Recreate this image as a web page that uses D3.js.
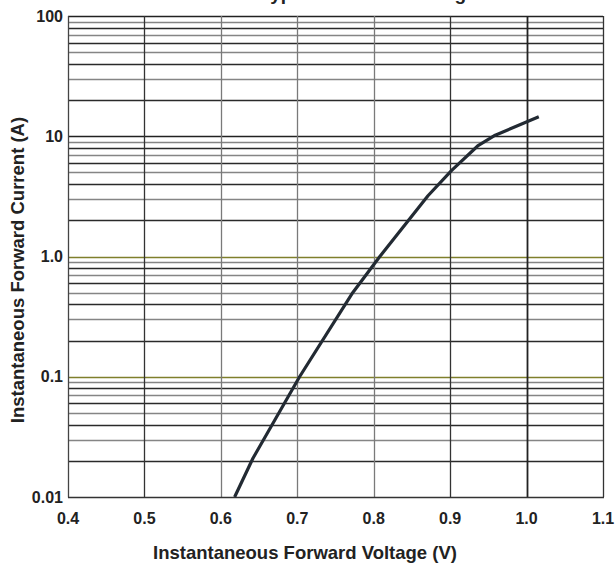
<!DOCTYPE html>
<html>
<head>
<meta charset="utf-8">
<script src="https://cdn.jsdelivr.net/npm/d3@7"></script>
<style>
  html, body { margin: 0; padding: 0; background: #fff; }
  svg { display: block; }
  text { font-family: "Liberation Sans", Arial, sans-serif; font-weight: bold; fill: #222; }
</style>
</head>
<body>
<svg id="chart" width="615" height="566"></svg>
<script>
// ---- data ----
const titleText = "Typical Forward Voltage";
const xTitle = "Instantaneous Forward Voltage (V)";
const yTitle = "Instantaneous Forward Current (A)";
const xTicks = [0.4, 0.5, 0.6, 0.7, 0.8, 0.9, 1.0, 1.1];
const xTickLabels = ["0.4", "0.5", "0.6", "0.7", "0.8", "0.9", "1.0", "1.1"];
const yTicks = [0.01, 0.1, 1, 10, 100];
const yTickLabels = ["0.01", "0.1", "1.0", "10", "100"];
const voltage = [0.618, 0.642, 0.703, 0.7725, 0.808, 0.871, 0.902, 0.936, 0.959, 1.016];
const current = [0.01, 0.021, 0.1, 0.5, 1.0, 3.2, 5.2, 8.3, 10.2, 14.5];

// ---- layout ----
const svg = d3.select("#chart");
const L = 68, R = 603, T = 16, B = 497;
const x = d3.scaleLinear().domain([0.4, 1.1]).range([L, R]);
const y = d3.scaleLog().domain([0.01, 100]).range([B, T]);

// horizontal grid: minor lines
const minorColor = {2: "#2a2a2a", 3: "#858585", 4: "#2a2a2a", 5: "#858585", 6: "#2a2a2a", 7: "#858585", 8: "#2a2a2a", 9: "#858585"};
const gGrid = svg.append("g");
const minors = [];
[0.01, 0.1, 1, 10].forEach(d => { for (let m = 2; m <= 9; m++) minors.push({v: d * m, m}); });
gGrid.selectAll("line.minor").data(minors).join("line")
  .attr("x1", L).attr("x2", R)
  .attr("y1", d => Math.round(y(d.v)) + 0.5).attr("y2", d => Math.round(y(d.v)) + 0.5)
  .attr("stroke", d => minorColor[d.m]).attr("stroke-width", 1.5);

// decade lines
const decadeColor = v => (v === 1 || v === 0.1) ? "#7f7f2c" : "#222";
gGrid.selectAll("line.dec").data(yTicks.slice(1)).join("line")
  .attr("x1", L).attr("x2", R)
  .attr("y1", d => Math.round(y(d)) + 0.5).attr("y2", d => Math.round(y(d)) + 0.5)
  .attr("stroke", decadeColor).attr("stroke-width", 1.6);

// vertical grid
const vColor = {"0.5": "#333", "0.6": "#7a7a7a", "0.7": "#7a7a7a", "0.8": "#7a7a7a", "0.9": "#333", "1.0": "#222", "1.1": "#333"};
gGrid.selectAll("line.v").data(xTicks.slice(1)).join("line")
  .attr("y1", T).attr("y2", B)
  .attr("x1", d => Math.round(x(d)) + 0.5).attr("x2", d => Math.round(x(d)) + 0.5)
  .attr("stroke", d => vColor[d.toFixed(1)])
  .attr("stroke-width", d => d.toFixed(1) === "1.0" ? 1.8 : 1.3);

// axes (left & bottom)
svg.append("line").attr("x1", L + 0.5).attr("x2", L + 0.5).attr("y1", T).attr("y2", B + 0.5)
  .attr("stroke", "#444").attr("stroke-width", 1.3);
svg.append("line").attr("x1", L).attr("x2", R + 1).attr("y1", B + 0.5).attr("y2", B + 0.5)
  .attr("stroke", "#333").attr("stroke-width", 1.3);

// curve
const line = d3.line().x(d => x(d[0])).y(d => y(d[1]));
svg.append("path")
  .datum(voltage.map((v, i) => [v, current[i]]))
  .attr("d", line)
  .attr("fill", "none").attr("stroke", "#222a33").attr("stroke-width", 3.2)
  .attr("stroke-linejoin", "round");

// y tick labels
svg.append("g").selectAll("text").data(yTicks).join("text")
  .attr("x", L - 5).attr("y", d => y(d))
  .attr("dy", "0.35em").attr("text-anchor", "end")
  .attr("font-size", 16)
  .text((d, i) => yTickLabels[i]);

// x tick labels
svg.append("g").selectAll("text").data(xTicks).join("text")
  .attr("x", d => x(d)).attr("y", B + 27)
  .attr("text-anchor", "middle").attr("font-size", 16)
  .text((d, i) => xTickLabels[i]);

// axis titles
svg.append("text").attr("x", 305).attr("y", 559).attr("text-anchor", "middle")
  .attr("font-size", 18.5).text(xTitle);
svg.append("text").attr("transform", "translate(24,270) rotate(-90)")
  .attr("text-anchor", "middle").attr("font-size", 18.5).text(yTitle);

// clipped title (only descenders visible)
svg.append("text").attr("x", 260).attr("y", 0).attr("font-size", 19).text(titleText);
</script>
</body>
</html>
